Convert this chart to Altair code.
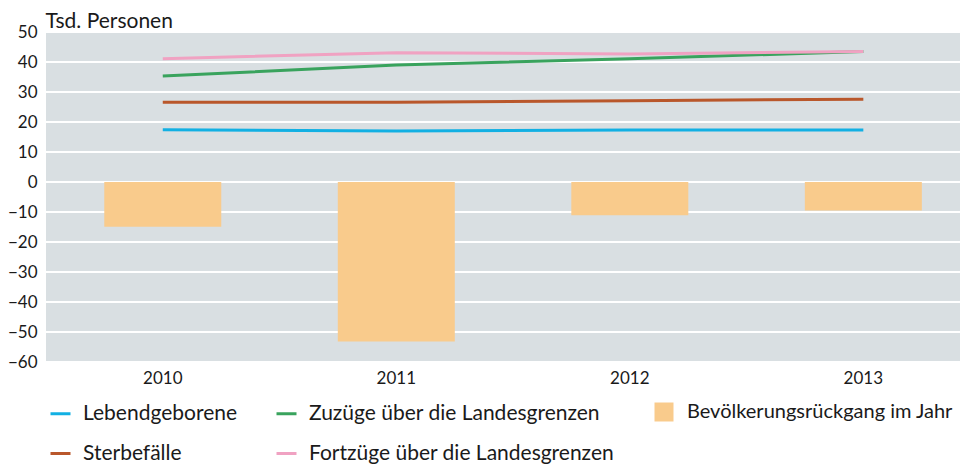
import altair as alt
import pandas as pd

years = ["2010", "2011", "2012", "2013"]
lebendgeborene = [17.4, 17.0, 17.3, 17.3]
sterbefaelle = [26.6, 26.6, 27.1, 27.6]
zuzuege = [35.3, 39.0, 41.1, 43.5]
fortzuege = [41.1, 43.1, 42.7, 43.5]
rueckgang = [-14.9, -53.2, -11.1, -9.5]

# legend fills column by column: Lebend/Sterbe in col 1, Zuzüge/Fortzüge in col 2
line_names = ["Lebendgeborene", "Sterbefälle",
              "Zuzüge über die Landesgrenzen", "Fortzüge über die Landesgrenzen"]
line_colors = ["#12b0e3", "#b9572b", "#39a35d", "#f0a2c2"]
bar_name = "Bevölkerungsrückgang im Jahr"
bar_color = "#f9cb8c"
y_ticks = [-60, -50, -40, -30, -20, -10, 0, 10, 20, 30, 40, 50]

FONT = "Lato"
TXT = "#1a1a1a"

series = {
    "Lebendgeborene": lebendgeborene,
    "Zuzüge über die Landesgrenzen": zuzuege,
    "Sterbefälle": sterbefaelle,
    "Fortzüge über die Landesgrenzen": fortzuege,
}
line_df = pd.DataFrame(
    [{"Jahr": y, "Reihe": k, "Wert": v[i]} for k, v in series.items() for i, y in enumerate(years)]
)
bar_df = pd.DataFrame({"Jahr": years, "Reihe": [bar_name] * 4, "Wert": rueckgang})
grid_df = pd.DataFrame({"Wert": y_ticks})

x_enc = alt.X(
    "Jahr:N",
    sort=years,
    scale=alt.Scale(paddingInner=0.5, paddingOuter=0.207, align=0.604),
    axis=alt.Axis(title=None, labelAngle=0, ticks=False, domain=False,
                  labelPadding=8, labelFontSize=17, labelFont=FONT, labelColor=TXT),
)
y_scale = alt.Scale(domain=[-60, 50], nice=False)
y_axis = alt.Axis(
    values=y_ticks, labelOverlap=False,
    ticks=False, domain=False, grid=False,
    labelPadding=9, labelFontSize=17, labelFont=FONT, labelColor=TXT,
    labelExpr="replace(datum.label, '-', '−')",
    title="Tsd. Personen", titleAngle=0, titleAlign="left", titleBaseline="alphabetic",
    titleX=-1, titleY=-5, titleFontSize=21, titleFont=FONT, titleFontWeight="normal",
    titleColor=TXT,
)

grid = alt.Chart(grid_df).mark_rule(color="white", strokeWidth=2).encode(
    y=alt.Y("Wert:Q", scale=y_scale, axis=y_axis),
)

bars = alt.Chart(bar_df).mark_bar(size=117).encode(
    x=x_enc,
    y=alt.Y("Wert:Q", scale=y_scale, axis=y_axis),
    fill=alt.Fill(
        "Reihe:N",
        scale=alt.Scale(domain=[bar_name], range=[bar_color]),
        legend=alt.Legend(title=None, orient="none", legendX=608, legendY=370,
                          symbolType="square", symbolSize=361, symbolStrokeWidth=0,
                          labelFontSize=20, labelFont=FONT, labelColor=TXT,
                          labelOffset=13, labelLimit=400, padding=0),
    ),
)

lines = alt.Chart(line_df).mark_line(strokeWidth=3).encode(
    x=x_enc,
    y=alt.Y("Wert:Q", scale=y_scale, axis=y_axis),
    color=alt.Color(
        "Reihe:N",
        sort=line_names,
        scale=alt.Scale(domain=line_names, range=line_colors),
        legend=alt.Legend(title=None, orient="none", legendX=3, legendY=370,
                          columns=2, columnPadding=32, rowPadding=18,
                          symbolType="stroke", symbolSize=400, symbolStrokeWidth=3,
                          labelFontSize=21, labelFont=FONT, labelColor=TXT,
                          labelOffset=11, labelLimit=400, padding=0),
    ),
)

chart = alt.layer(grid, bars, lines).properties(
    width=914, height=330,
    autosize=alt.AutoSizeParams(type="none"),
    padding={"left": 38, "top": 24, "right": 0, "bottom": 104},
).configure_view(fill="#d9dfe2", stroke=None)

chart.save("out.html", embed_options={"renderer": "svg", "actions": False})
